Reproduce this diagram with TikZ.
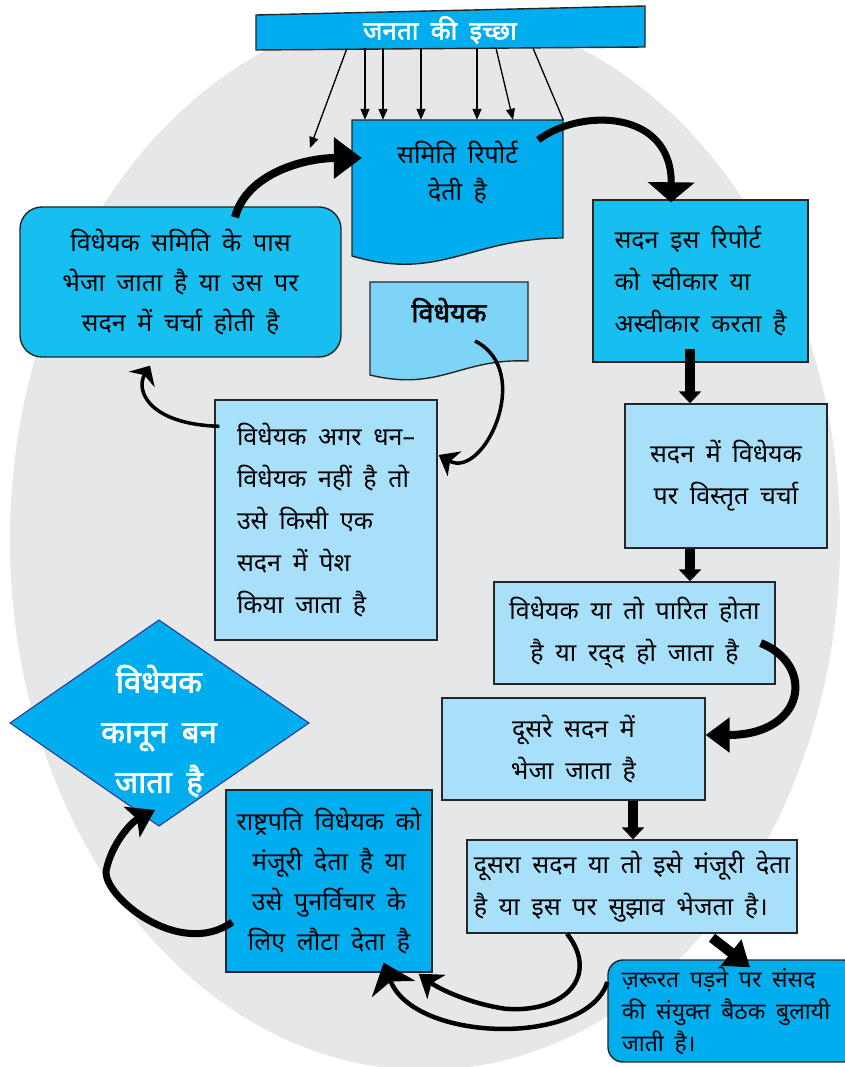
\documentclass[tikz,border=0pt]{standalone}
\usepackage{fontspec}
\newfontfamily\hindi[Script=Devanagari,AutoFakeBold=2.2,WordSpace=1.8]{Noto Sans}
\usepackage{tikz}
\usetikzlibrary{arrows.meta}
\definecolor{halo}{HTML}{E6E7E8}
\definecolor{deepcyan}{HTML}{00AEEF}
\definecolor{midcyan}{HTML}{17BFF1}
\definecolor{palecyan}{HTML}{A9E0F9}
\definecolor{doccyan}{HTML}{7DD4F6}
\definecolor{navyedge}{HTML}{2E3192}

\begin{document}
\begin{tikzpicture}[x=1pt,y=-1pt,
    font=\hindi\fontsize{25}{42}\selectfont,
    box/.style={draw=black!85,line width=1.4pt,inner sep=0pt},
    thinarrow/.style={line width=1.3pt,-{Triangle[length=11pt,width=9pt]}},
    hookarrow/.style={line width=3.5pt,-{Stealth[length=16pt,width=30pt,inset=5pt]}},
    looparrow/.style={line width=4.5pt,-{Stealth[length=28pt,width=46pt,inset=8pt]}},
    fatarrow/.style={line width=8pt,-{Triangle[length=28pt,width=40pt]}},
    stubarrow/.style={line width=10pt,-{Triangle[length=12pt,width=22pt]}}]
  \useasboundingbox (0,0) rectangle (844,1067);
  \fill[halo] (425,540) ellipse [x radius=415,y radius=530];

  % shapes with bent edges
  \draw[box,fill=deepcyan] (256,15) -- (645,6) -- (645,47) -- (256,50) -- cycle;
  \draw[box,fill=deepcyan] (352,120) -- (563,120) -- (563,238)
    .. controls (470,238) and (440,282) .. (352,256) -- cycle;
  \draw[box,fill=doccyan] (370,282) -- (528,282) -- (528,361)
    .. controls (460,358) and (440,392) .. (370,375) -- cycle;
  \draw[draw=navyedge,line width=1pt,fill=deepcyan] (10,723) -- (159,620) -- (309,723) -- (159,826) -- cycle;

  % nodes
  \node[text=white,font=\hindi\bfseries\fontsize{26}{42}\selectfont,minimum width=389,minimum height=36] (will) at (440,30) {जनता की इच्छा};
  \node[minimum width=211,minimum height=106,align=center,inner sep=0pt] (report) at (457.5,173) {समिति रिपोर्ट\\[-5pt]देती है};
  \node[font=\hindi\bfseries\fontsize{27}{42}\selectfont] (bill) at (449,310) {विधेयक};
  \node[box,fill=midcyan,rounded corners=22pt,minimum width=321,minimum height=150,align=center] (committee) at (180.5,282)
    {विधेयक समिति के पास\\[-2pt]भेजा जाता है या उस पर\\[-2pt]सदन में चर्चा होती है};
  \node[box,fill=midcyan,minimum width=215,minimum height=162,align=left] (accept) at (700.5,281)
    {सदन इस रिपोर्ट\\को स्वीकार या\\अस्वीकार करता है};
  \node[box,fill=palecyan,minimum width=222,minimum height=240,align=left] (money) at (326,520)
    {विधेयक अगर धन–\\विधेयक नहीं है तो\\उसे किसी एक\\सदन में पेश\\किया जाता है};
  \node[box,fill=palecyan,minimum width=202,minimum height=144,align=center] (discuss) at (726,476)
    {सदन में विधेयक\\पर विस्तृत चर्चा};
  \node[box,fill=palecyan,minimum width=281,minimum height=102,align=center] (passed) at (634.5,633)
    {विधेयक या तो पारित होता\\है या रद्^^^^200cद हो जाता है};
  \node[box,fill=palecyan,minimum width=263,minimum height=102,align=center] (second) at (573.5,749)
    {दूसरे सदन में\\भेजा जाता है};
  \node[box,fill=palecyan,minimum width=330,minimum height=93,align=left] (house) at (632,886.5)
    {दूसरा सदन या तो इसे मंजूरी देता\\है या इस पर सुझाव भेजता है।};
  \node[box,fill=deepcyan,rounded corners=15pt,minimum width=250,minimum height=102] (joint) at (733,1011) {};
  \node[anchor=west,align=left,font=\hindi\fontsize{23}{32}\selectfont] (jointtext) at ([xshift=11pt]joint.west)
    {ज़रूरत पड़ने पर संसद\\की संयुक्त बैठक बुलायी\\जाती है।};
  \node[box,fill=deepcyan,minimum width=206,minimum height=182,align=center] (president) at (329,881)
    {राष्ट्रपति विधेयक को\\[-2pt]मंजूरी देता है या\\[-2pt]उसे पुनर्विचार के\\[-2pt]लिए लौटा देता है};
  \node[text=white,align=center,font=\hindi\bfseries\fontsize{31}{50}\selectfont] (law) at (159,731)
    {विधेयक\\कानून बन\\जाता है};

  % arrows from the top bar
  \coordinate (sidetip) at (310,148);
  \draw[thinarrow] ([xshift=-93pt]will.south) -- (sidetip);
  \foreach \s/\t in {-75/-92.5,-57/-74.5,-19/-36.5,37/19.5,56/55.5}
    \draw[thinarrow] ([xshift=\s pt]will.south) -- ([xshift=\t pt]report.north);
  \draw[line width=1.3pt] ([xshift=93pt]will.south) -- (report.north east);

  % flow arrows
  \draw[fatarrow] ([xshift=54.5pt,yshift=-11pt]committee.north) .. controls +(12,-45) and +(-55,0) .. ([xshift=10pt,yshift=15pt]report.west);
  \draw[fatarrow,-{Triangle[length=20pt,width=46pt]},line width=7pt] ([xshift=-25pt,yshift=33pt]report.east) .. controls +(42,-32) and +(1,-93) .. ([xshift=-29.5pt,yshift=-3pt]accept.north);
  \draw[stubarrow] ([xshift=-10.5pt,yshift=14pt]accept.south) -- ([xshift=-36pt]discuss.north);
  \draw[stubarrow] ([xshift=-36pt]discuss.south) -- ([xshift=55.5pt]passed.north);
  \draw[fatarrow,-{Triangle[length=24pt,width=34pt]}] ([xshift=-15pt,yshift=-10pt]passed.east) .. controls +(55,22) and +(100,0) .. ([yshift=14pt]second.east);
  \draw[stubarrow] ([xshift=59.5pt]second.south) -- ([xshift=1pt]house.north);
  \draw[stubarrow,-{Triangle[length=24pt,width=32pt]}] ([xshift=80pt,yshift=-4pt]house.south) -- ([xshift=17pt,yshift=-8pt]joint.north);
  \draw[looparrow,-{Stealth[length=22pt,width=30pt,inset=6pt]}] ([xshift=-65pt]house.south) .. controls +(33,42) and +(60,5) .. ++(-62,75)
    .. controls +(-35,-5) and +(20,15) .. ([xshift=-14pt,yshift=-1pt]president.south east);
  \draw[looparrow] ([yshift=29pt]joint.west) .. controls +(-20,65) and +(30,80) .. ([xshift=-49pt,yshift=10pt]president.south east);
  \draw[fatarrow,line width=7pt,-{Stealth[length=26pt,width=34pt,inset=6pt]}] ([xshift=7pt,yshift=-41pt]president.west) .. controls +(-53,38) and +(-5,25) .. ++(-126,-52)
    .. controls +(5,-25) and +(-25,13) .. ([xshift=-4pt,yshift=-79pt]law.center);
  \draw[hookarrow] ([xshift=5pt,yshift=-27pt]money.north west) .. controls +(-70,-2) and +(-15,25) .. ([xshift=-30.5pt,yshift=-8pt]committee.south);
  \draw[hookarrow,-{Stealth[length=18pt,width=28pt,inset=5pt]}] ([xshift=26pt,yshift=-31pt]bill.center) .. controls +(60,30) and +(45,25) .. ([xshift=1pt,yshift=65pt]money.east);
\end{tikzpicture}
\end{document}
